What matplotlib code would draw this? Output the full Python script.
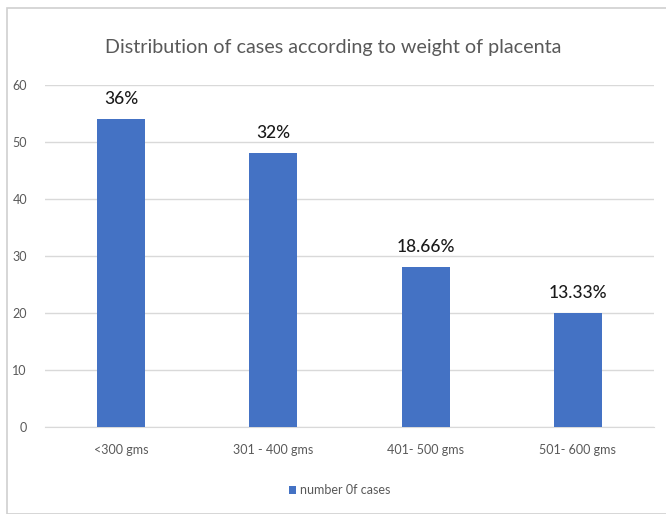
import matplotlib
matplotlib.use("Agg")
import matplotlib.pyplot as plt
from matplotlib.patches import Rectangle

categories = ["<300 gms", "301 - 400 gms", "401- 500 gms", "501- 600 gms"]
values = [54, 48, 28, 20]
pct_labels = ["36%", "32%", "18.66%", "13.33%"]
series_name = "number 0f cases"
title = "Distribution of cases according to weight of placenta"

plt.rcParams['font.family'] = ['Lato', 'DejaVu Sans']

fig = plt.figure(figsize=(6.66, 5.14), dpi=100)
fig.patches.append(Rectangle((7/666, 0), 1.0, 1 - 8/514, transform=fig.transFigure,
                             fill=False, edgecolor="#d0d0d0", linewidth=1.2))
ax = fig.add_axes([45/666, 1 - 427/514, (654 - 45)/666, (427 - 85)/514])

x = list(range(len(categories)))
bars = ax.bar(x, values, width=0.316, color="#4472C4", label=series_name, zorder=3)
for b, lab in zip(bars, pct_labels):
    ax.annotate(lab, (b.get_x() + b.get_width()/2, b.get_height()),
                xytext=(0, 9), textcoords="offset points", ha="center", va="bottom",
                fontsize=12.5, color="#1a1a1a", fontweight="medium")

ax.set_xlim(-0.5, len(categories) - 0.5)
ax.set_ylim(0, 60)
ax.set_yticks(range(0, 61, 10))
ax.set_xticks(x)
ax.set_xticklabels(categories)
ax.grid(axis="y", color="#d9d9d9", linewidth=1, zorder=0)
for s in ["top", "right", "left"]:
    ax.spines[s].set_visible(False)
ax.spines["bottom"].set_color("#d9d9d9")
ax.tick_params(axis="both", length=0, colors="#595959", labelsize=9)
ax.tick_params(axis="x", pad=12)
ax.tick_params(axis="y", pad=13)

fig.text(0.5, 1 - 47/514, title, ha="center", va="center", fontsize=14.2, color="#595959")
fig.legend(loc="center", bbox_to_anchor=(0.51, 1 - 490/514), frameon=False, fontsize=9,
           labelcolor="#595959", handlelength=0.6, handleheight=0.6, handletextpad=0.3)

fig.savefig("out.png", dpi=100)
